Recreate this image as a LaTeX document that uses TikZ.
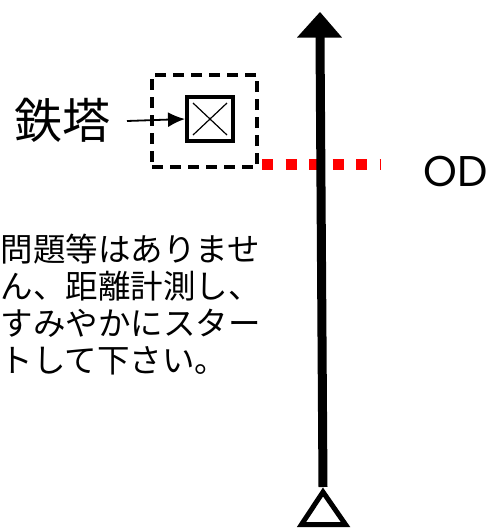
\documentclass[tikz,border=0pt]{standalone}
\usetikzlibrary{arrows.meta}
\usepackage{fontspec}
\newfontfamily\jpfont{Noto Sans CJK JP}
\newfontfamily\odfont{Poppins}
\begin{document}
\begin{tikzpicture}[x=1pt,y=-1pt,
  dashbox/.style={draw=black, line width=3.2pt, dash pattern=on 11pt off 7pt},
  towerbox/.style={draw=black, line width=4pt, minimum width=46pt, minimum height=44pt, inner sep=0pt},
  reddots/.style={draw=red, line width=11pt, dash pattern=on 11pt off 12.5pt},
  mainline/.style={draw=black, line width=9pt},
  jptext/.style={font=\jpfont\fontsize{32.5pt}{37pt}\selectfont, align=left, anchor=north west, inner sep=0pt}
]
\useasboundingbox (0,0) rectangle (488,528);
% dashed frame
\node[dashbox, minimum width=105pt, minimum height=92pt, inner sep=0pt] (frame) at (204.5,121) {};
% tower symbol
\node[towerbox] (tower) at (210,119) {};
\draw[line width=1.2pt] ([shift={(8,8)}]tower.north west) -- ([shift={(-8,-8)}]tower.south east);
\draw[line width=1.2pt] ([shift={(-8,8)}]tower.north east) -- ([shift={(8,-8)}]tower.south west);
% label
\node[font=\jpfont\fontsize{48pt}{48pt}\selectfont, inner sep=0pt] (lab) at (63,120) {鉄塔};
\coordinate (arrstart) at (127,121);
\draw[line width=1.8pt, -{Latex[length=17pt,width=15pt]}] (arrstart) -- (tower.west);
% red dotted line
\coordinate (r1) at (262,164.5);
\coordinate (r2) at (381,164.5);
\draw[reddots] (r1) -- (r2);
% main line
\coordinate (bot) at (323,487);
\coordinate (top) at (320,37);
\draw[mainline] (bot) -- (top);
\fill (297,37.5) -- (320,12) -- (342,37.5) -- cycle;
% bottom triangle
\draw[line width=5pt, fill=white, line join=miter] (323,492) -- (345.5,524.5) -- (301.5,524.5) -- cycle;
% OD
\node[font=\odfont\fontsize{43pt}{43pt}\selectfont, inner sep=0pt, anchor=west] (od) at (423,171.5) {OD};
% text
\node[jptext] (txt) at (0.5,234) {問題等はありませ\\ん、距離計測し、\\すみやかにスター\\トして下さい。};
\end{tikzpicture}
\end{document}
